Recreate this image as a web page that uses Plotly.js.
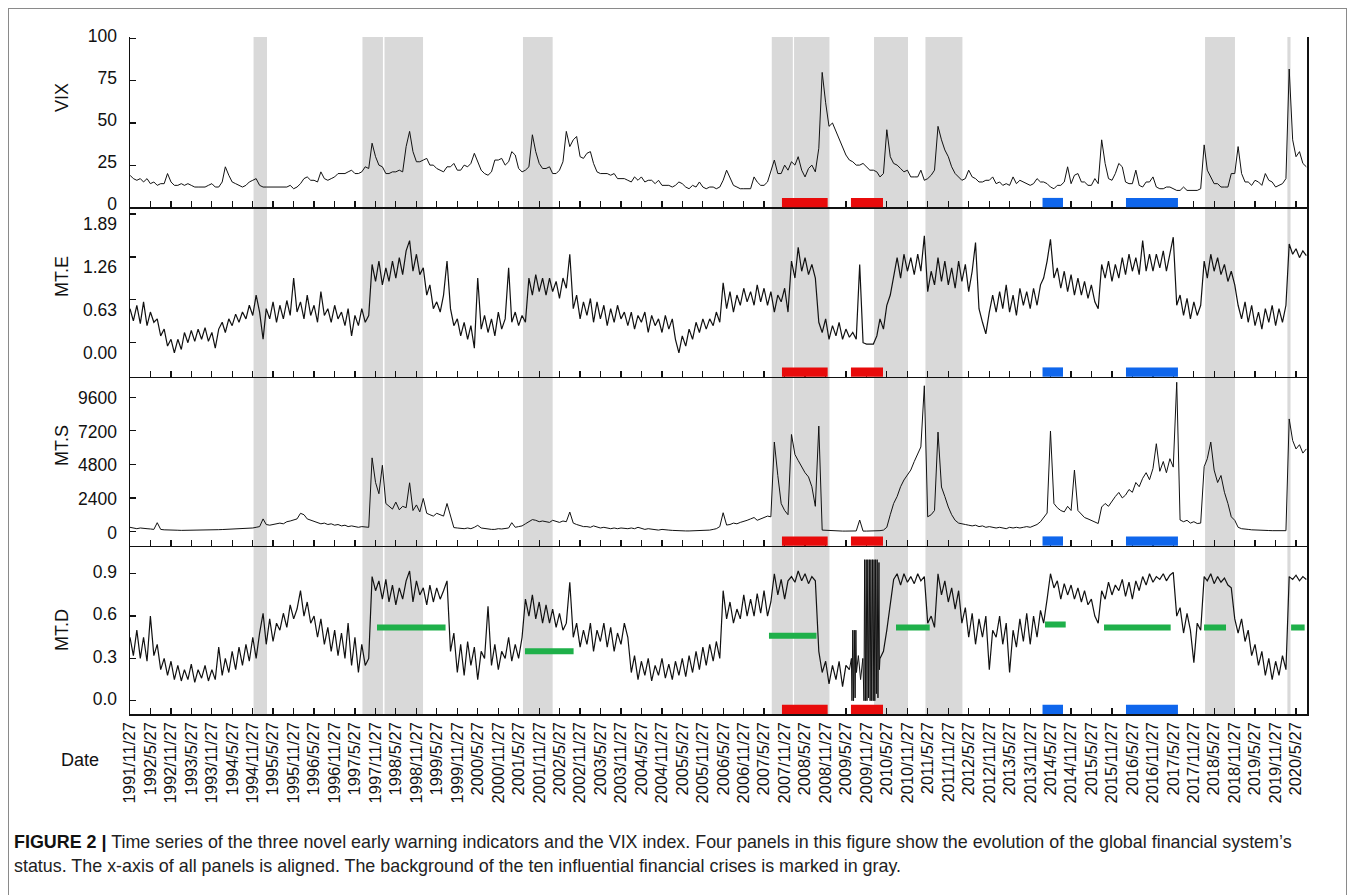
<!DOCTYPE html>
<html><head><meta charset="utf-8">
<script src="https://cdn.plot.ly/plotly-3.0.1.min.js"></script>
<style>
body{margin:0;background:#fff;}
#chart{position:absolute;left:0;top:0;width:1355px;height:895px;}
#frame{position:absolute;left:8px;top:8px;width:1339px;height:900px;border:1px solid #8a8a8a;box-sizing:border-box;pointer-events:none;}
#caption{position:absolute;left:14px;top:830px;font-family:'Liberation Sans',Arial,sans-serif;font-size:17.9px;line-height:24px;color:#222;white-space:nowrap;}
#caption b{color:#111;}
</style></head><body>
<div id="chart"></div>
<div id="frame"></div>
<div id="caption"><b>FIGURE 2 |</b> Time series of the three novel early warning indicators and the VIX index. Four panels in this figure show the evolution of the global financial system’s<br>status. The x-axis of all panels is aligned. The background of the ten influential financial crises is marked in gray.</div>
<script>
// ---------- DATA ----------
const seriesStart = '1991-11-27'; // monthly observations, one per month (27th)

const vixValues = [
/*1991*/ 19,17,
/*1992*/ 16,17,15,17,14,15,13,14,14,20,15,13,
/*1993*/ 13,14,13,14,13,12,12,12,12,13,14,12,
/*1994*/ 12,15,24,19,15,14,13,12,13,15,16,17,
/*1995*/ 13,12,12,12,12,12,12,12,12,13,11,12,
/*1996*/ 14,17,18,16,16,15,21,17,16,17,18,20,
/*1997*/ 20,20,21,22,20,20,21,24,23,38,30,25,
/*1998*/ 24,20,20,21,21,22,21,36,45,33,27,27,
/*1999*/ 28,29,25,25,23,22,21,24,24,26,22,22,
/*2000*/ 25,24,26,32,27,22,20,19,21,28,28,29,
/*2001*/ 25,27,33,31,23,21,22,24,43,33,26,23,
/*2002*/ 23,24,20,20,22,27,45,36,40,42,30,29,
/*2003*/ 32,33,26,21,20,20,20,19,20,17,17,17,
/*2004*/ 16,15,18,16,18,15,16,16,14,16,13,13,
/*2005*/ 13,12,13,15,14,12,11,13,12,15,12,11,
/*2006*/ 12,12,11,12,16,22,17,13,12,11,11,11,
/*2007*/ 11,18,15,13,13,15,22,28,20,20,25,22,
/*2008*/ 27,25,30,22,18,23,25,21,35,80,62,48,
/*2009*/ 50,45,40,36,31,28,27,25,25,26,24,22,
/*2010*/ 22,21,18,20,46,30,26,25,23,21,22,18,
/*2011*/ 18,18,22,16,17,19,22,48,40,34,30,24,
/*2012*/ 20,18,16,17,22,18,17,15,15,16,16,18,
/*2013*/ 14,15,13,14,13,18,14,16,15,14,13,14,
/*2014*/ 17,15,15,14,12,11,13,13,15,24,14,19,
/*2015*/ 20,15,15,13,13,17,14,40,26,17,16,20,
/*2016*/ 26,24,15,14,14,22,13,12,15,15,18,12,
/*2017*/ 11,11,12,12,11,10,10,12,10,10,10,10,
/*2018*/ 11,37,22,18,14,14,12,12,12,20,20,36,
/*2019*/ 20,15,15,13,16,15,13,20,16,15,12,13,
/*2020*/ 14,17,82,40,30,33,26,24
];

const mteValues = [
/*1991*/ 0.50,0.32,
/*1992*/ 0.55,0.28,0.60,0.25,0.45,0.30,0.35,0.10,0.20,-0.05,0.05,-0.15,
/*1993*/ 0.05,-0.10,0.15,0.00,0.18,0.02,0.20,0.05,0.22,0.02,0.15,-0.08,
/*1994*/ 0.20,0.30,0.15,0.35,0.25,0.42,0.30,0.45,0.35,0.55,0.40,0.70,
/*1995*/ 0.45,0.05,0.50,0.35,0.60,0.30,0.55,0.35,0.62,0.40,0.95,0.45,
/*1996*/ 0.60,0.35,0.70,0.40,0.55,0.30,0.75,0.40,0.50,0.30,0.55,0.35,
/*1997*/ 0.45,0.25,0.50,0.10,0.40,0.25,0.50,0.30,0.40,1.15,0.90,1.20,
/*1998*/ 0.85,1.10,0.90,1.20,0.95,1.25,1.00,1.35,1.50,1.05,1.30,1.00,
/*1999*/ 1.10,0.70,0.85,0.50,0.60,0.45,0.70,1.20,0.50,0.25,0.35,0.10,
/*2000*/ 0.30,0.05,0.25,-0.08,0.95,0.20,0.40,0.15,0.35,0.10,0.45,0.20,
/*2001*/ 0.35,1.10,0.30,0.45,0.25,0.40,0.30,0.95,0.70,1.00,0.75,0.95,
/*2002*/ 0.70,0.95,0.75,0.90,0.65,0.95,0.80,1.30,0.50,0.70,0.35,0.60,
/*2003*/ 0.40,0.65,0.30,0.60,0.35,0.55,0.25,0.50,0.30,0.55,0.35,0.45,
/*2004*/ 0.25,0.45,0.20,0.40,0.30,0.45,0.15,0.40,0.25,0.35,0.15,0.40,
/*2005*/ 0.20,0.35,0.05,-0.15,0.10,-0.05,0.20,0.05,0.30,0.15,0.35,0.20,
/*2006*/ 0.35,0.25,0.45,0.30,0.88,0.50,0.75,0.45,0.70,0.55,0.80,0.60,
/*2007*/ 0.75,0.55,0.85,0.60,0.80,0.55,0.75,0.45,0.70,0.60,0.80,0.45,
/*2008*/ 1.20,0.95,1.40,1.05,1.25,1.00,1.15,0.95,0.30,0.15,0.35,0.05,
/*2009*/ 0.25,0.10,0.30,0.05,0.20,0.08,0.15,0.05,1.15,0.00,-0.02,-0.02,
/*2010*/ -0.02,0.10,0.35,0.20,0.55,0.70,1.00,1.25,0.95,1.30,1.05,1.25,
/*2011*/ 1.00,1.30,1.05,1.57,0.75,1.05,0.85,1.25,0.90,1.20,0.85,1.10,
/*2012*/ 0.80,1.20,0.90,1.15,0.75,1.05,1.47,0.50,0.30,0.13,0.45,0.70,
/*2013*/ 0.45,0.75,0.50,0.85,0.45,0.70,0.40,0.80,0.55,0.75,0.50,0.80,
/*2014*/ 0.55,0.85,0.95,1.20,1.52,0.95,1.10,0.80,1.05,0.75,1.00,0.70,
/*2015*/ 0.95,0.70,0.90,0.65,0.85,0.60,0.50,1.15,0.95,1.20,0.90,1.15,
/*2016*/ 0.95,1.25,1.00,1.30,1.05,1.25,1.00,1.50,1.05,1.30,1.05,1.30,
/*2017*/ 1.10,1.35,1.05,1.30,1.55,0.55,0.70,0.40,0.65,0.35,0.60,0.40,
/*2018*/ 0.55,1.20,0.95,1.30,1.05,1.25,1.00,1.15,0.90,1.05,0.85,0.55,
/*2019*/ 0.35,0.60,0.30,0.55,0.25,0.45,0.20,0.50,0.30,0.55,0.25,0.50,
/*2020*/ 0.30,0.55,1.45,1.30,1.38,1.25,1.35,1.28
];

const mtsValues = [
/*1991*/ 300,250,
/*1992*/ 200,250,200,200,180,150,630,150,120,100,100,100,
/*1993*/ 90,80,80,80,80,90,90,100,100,110,120,120,
/*1994*/ 130,140,150,160,150,160,170,180,200,220,250,300,
/*1995*/ 350,900,500,450,500,550,600,550,700,750,800,900,
/*1996*/ 1300,1200,900,800,700,600,550,600,500,550,450,500,
/*1997*/ 400,450,350,400,350,300,350,300,300,5260,3500,2700,
/*1998*/ 4730,2000,1800,1600,2100,1550,1800,1700,3480,1500,1900,1400,
/*1999*/ 2360,1300,1200,1100,1300,1200,1100,2000,1200,280,250,200,
/*2000*/ 200,250,200,300,440,250,200,180,150,150,200,180,
/*2001*/ 200,250,630,300,350,400,550,700,850,800,700,750,
/*2002*/ 700,650,800,700,650,750,700,1390,600,500,400,350,
/*2003*/ 350,300,400,300,250,300,250,200,250,200,250,200,
/*2004*/ 200,250,200,300,200,150,200,150,150,100,150,100,
/*2005*/ 100,80,60,50,40,40,40,50,40,50,60,80,
/*2006*/ 100,150,200,350,1340,460,500,600,550,650,700,800,
/*2007*/ 900,1000,800,900,1000,1100,1050,6390,4000,2000,1500,1200,
/*2008*/ 6930,5500,5070,4600,4200,3900,3200,1800,7530,100,80,60,
/*2009*/ 50,40,40,30,30,30,30,40,820,30,30,30,
/*2010*/ 30,40,60,100,300,1200,2000,2500,3200,3680,4000,4390,
/*2011*/ 5000,5500,6040,10410,1050,1200,1500,7100,3180,2500,1750,1200,
/*2012*/ 800,600,570,500,450,400,450,350,400,300,350,300,
/*2013*/ 250,300,250,200,300,250,300,250,300,350,300,400,
/*2014*/ 500,700,1000,1320,7180,2000,1700,1500,1400,1800,1500,4390,
/*2015*/ 1500,1200,1000,900,800,700,570,1750,2000,1800,2200,2500,
/*2016*/ 2790,2400,2600,3000,2800,3500,3200,3800,4200,3700,4500,6270,
/*2017*/ 4300,5000,4200,5200,4600,10660,820,700,800,600,700,570,
/*2018*/ 600,4630,5200,6390,4390,3500,4000,2800,2000,1050,800,300,
/*2019*/ 200,150,150,120,100,100,80,80,70,60,60,50,
/*2020*/ 50,60,8040,6500,5900,6200,5600,5900
];

const mtdValues = [
/*1991*/ 0.45,0.32,
/*1992*/ 0.50,0.30,0.45,0.28,0.60,0.32,0.40,0.22,0.30,0.18,0.28,0.15,
/*1993*/ 0.25,0.14,0.22,0.15,0.26,0.13,0.22,0.16,0.25,0.14,0.22,0.15,
/*1994*/ 0.38,0.18,0.30,0.20,0.35,0.22,0.38,0.25,0.40,0.28,0.45,0.30,
/*1995*/ 0.48,0.62,0.40,0.58,0.42,0.55,0.50,0.62,0.52,0.68,0.58,0.65,
/*1996*/ 0.78,0.60,0.70,0.55,0.60,0.45,0.58,0.40,0.52,0.35,0.50,0.32,
/*1997*/ 0.48,0.30,0.55,0.25,0.45,0.20,0.40,0.25,0.30,0.88,0.78,0.85,
/*1998*/ 0.72,0.86,0.70,0.82,0.68,0.80,0.72,0.85,0.92,0.70,0.85,0.75,
/*1999*/ 0.80,0.68,0.82,0.70,0.80,0.72,0.78,0.85,0.35,0.48,0.20,0.40,
/*2000*/ 0.18,0.42,0.25,0.38,0.15,0.35,0.30,0.67,0.25,0.40,0.22,0.35,
/*2001*/ 0.30,0.45,0.28,0.40,0.30,0.45,0.72,0.60,0.75,0.58,0.70,0.55,
/*2002*/ 0.68,0.55,0.65,0.52,0.62,0.50,0.55,0.84,0.45,0.55,0.38,0.50,
/*2003*/ 0.40,0.55,0.35,0.50,0.42,0.55,0.38,0.52,0.35,0.48,0.40,0.55,
/*2004*/ 0.45,0.20,0.32,0.15,0.28,0.18,0.30,0.14,0.25,0.18,0.30,0.16,
/*2005*/ 0.26,0.15,0.28,0.18,0.30,0.17,0.32,0.20,0.35,0.22,0.38,0.25,
/*2006*/ 0.40,0.28,0.42,0.30,0.78,0.58,0.70,0.55,0.65,0.58,0.75,0.60,
/*2007*/ 0.72,0.60,0.76,0.62,0.78,0.60,0.70,0.90,0.75,0.86,0.72,0.85,
/*2008*/ 0.88,0.84,0.92,0.85,0.90,0.83,0.88,0.85,0.35,0.20,0.28,0.12,
/*2009*/ 0.25,0.15,0.28,0.10,0.25,0.22,null,null,null,null,null,null,
/*2010*/ null,null,0.30,0.35,0.50,0.70,0.86,0.90,0.82,0.90,0.84,0.88,
/*2011*/ 0.83,0.90,0.85,0.88,0.55,0.60,0.52,0.90,0.75,0.85,0.70,0.80,
/*2012*/ 0.65,0.78,0.55,0.66,0.45,0.62,0.40,0.58,0.45,0.60,0.22,0.50,
/*2013*/ 0.45,0.60,0.40,0.55,0.20,0.50,0.38,0.58,0.42,0.62,0.40,0.60,
/*2014*/ 0.45,0.64,0.55,0.72,0.90,0.80,0.85,0.72,0.83,0.75,0.82,0.72,
/*2015*/ 0.80,0.70,0.78,0.68,0.72,0.60,0.55,0.78,0.72,0.84,0.75,0.82,
/*2016*/ 0.78,0.86,0.74,0.84,0.72,0.85,0.78,0.88,0.82,0.90,0.84,0.88,
/*2017*/ 0.86,0.90,0.85,0.89,0.91,0.60,0.66,0.48,0.62,0.50,0.27,0.55,
/*2018*/ 0.50,0.88,0.85,0.90,0.83,0.88,0.84,0.87,0.82,0.80,0.58,0.48,
/*2019*/ 0.58,0.42,0.50,0.32,0.40,0.25,0.35,0.18,0.30,0.15,0.28,0.18,
/*2020*/ 0.32,0.22,0.88,0.86,0.89,0.85,0.88,0.86
];

// MT.D oscillation episode 2009-2010 (finer readings)
const mtdOscDates = ['2009-06-27','2009-07-15','2009-07-20','2009-07-27','2009-08-03','2009-08-10','2009-08-17','2009-08-24','2009-08-29','2009-09-15','2009-10-05','2009-10-25','2009-11-04','2009-11-10','2009-11-17','2009-11-24','2009-12-01','2009-12-08','2009-12-15','2009-12-22','2009-12-29','2010-01-05','2010-01-12','2010-01-19','2010-01-26','2010-02-02','2010-02-09','2010-02-16','2010-02-23','2010-03-02','2010-03-09','2010-03-18','2010-03-22','2010-03-27'];
const mtdOscValues = [0.22,0.30,0.00,0.50,0.00,0.50,0.02,0.50,0.20,0.32,0.15,0.30,0.00,1.00,0.00,1.00,0.00,1.00,0.02,1.00,0.00,1.00,0.00,1.00,0.00,1.00,0.00,1.00,0.05,1.00,0.02,0.98,0.22,0.30];

const tickLabels = ['1991/11/27','1992/5/27','1992/11/27','1993/5/27','1993/11/27','1994/5/27','1994/11/27','1995/5/27','1995/11/27','1996/5/27','1996/11/27','1997/5/27','1997/11/27','1998/5/27','1998/11/27','1999/5/27','1999/11/27','2000/5/27','2000/11/27','2001/5/27','2001/11/27','2002/5/27','2002/11/27','2003/5/27','2003/11/27','2004/5/27','2004/11/27','2005/5/27','2005/11/27','2006/5/27','2006/11/27','2007/5/27','2007/11/27','2008/5/27','2008/11/27','2009/5/27','2009/11/27','2010/5/27','2010/11/27','2011/5/27','2011/11/27','2012/5/27','2012/11/27','2013/5/27','2013/11/27','2014/5/27','2014/11/27','2015/5/27','2015/11/27','2016/5/27','2016/11/27','2017/5/27','2017/11/27','2018/5/27','2018/11/27','2019/5/27','2019/11/27','2020/5/27'];

// crisis periods (gray background)
const crisisStarts = ['1994-12-04','1997-08-02','1998-02-15','2001-07-05','2007-08-04','2008-02-19','2010-02-02','2011-05-07','2018-03-07','2020-03-11'];
const crisisEnds   = ['1995-04-03','1998-02-01','1999-01-25','2002-03-27','2008-02-08','2008-12-31','2010-12-02','2012-04-01','2018-11-29','2020-04-08'];

// red / blue markers along panel bottoms
const redStarts  = ['2007-11-03','2009-07-11'];
const redEnds    = ['2008-12-15','2010-04-23'];
const blueStarts = ['2014-03-17','2016-03-31'];
const blueEnds   = ['2014-09-16','2017-07-08'];

// green level bars in MT.D panel
const greenStarts = ['1997-12-10','2001-07-23','2007-07-10','2010-08-17','2014-04-08','2015-09-17','2018-02-26','2020-04-13'];
const greenEnds   = ['1999-08-14','2002-09-30','2008-09-06','2011-06-14','2014-10-10','2017-05-04','2018-09-10','2020-08-12'];
const greenLevels = [0.52,0.35,0.46,0.52,0.54,0.52,0.52,0.52];

// ---------- BUILD ----------
const monthDates = [];
for (let i = 0; i < vixValues.length; i++) {
  const d = new Date(Date.UTC(1991, 10 + i, 27));
  monthDates.push(d.toISOString().slice(0, 10));
}
const tickDates = tickLabels.map(s => { const p = s.split('/'); return p[0] + '-' + p[1].padStart(2,'0') + '-' + p[2]; });

const FONT = "'Liberation Sans', Arial, sans-serif";
const lineStyle = {color: '#111', width: 1.2};
const traces = [
  {x: monthDates, y: vixValues, xaxis: 'x2', yaxis: 'y',  mode: 'lines', line: {color: '#111', width: 1}, hoverinfo: 'skip'},
  {x: monthDates, y: mteValues, xaxis: 'x3', yaxis: 'y2', mode: 'lines', line: lineStyle, hoverinfo: 'skip'},
  {x: monthDates, y: mtsValues, xaxis: 'x4', yaxis: 'y3', mode: 'lines', line: {color: '#111', width: 1}, hoverinfo: 'skip'},
  {x: monthDates, y: mtdValues, xaxis: 'x',  yaxis: 'y4', mode: 'lines', line: lineStyle, hoverinfo: 'skip', connectgaps: false},
  {x: mtdOscDates, y: mtdOscValues, xaxis: 'x', yaxis: 'y4', mode: 'lines', line: {color: '#111', width: 1}, hoverinfo: 'skip'}
];

const shapes = [];
crisisStarts.forEach((s, i) => {
  shapes.push({type: 'rect', xref: 'x', yref: 'paper', x0: s, x1: crisisEnds[i], y0: 0, y1: 1,
    fillcolor: '#d9d9d9', line: {width: 0}, layer: 'below'});
});
const domRefs = ['y domain', 'y2 domain', 'y3 domain', 'y4 domain'];
domRefs.forEach(ref => {
  redStarts.forEach((s, i) => shapes.push({type: 'rect', xref: 'x', yref: ref, x0: s, x1: redEnds[i], y0: 0, y1: 0.055,
    fillcolor: '#e80b0b', line: {width: 0}, layer: 'above'}));
  blueStarts.forEach((s, i) => shapes.push({type: 'rect', xref: 'x', yref: ref, x0: s, x1: blueEnds[i], y0: 0, y1: 0.055,
    fillcolor: '#0f66ec', line: {width: 0}, layer: 'above'}));
});
greenStarts.forEach((s, i) => shapes.push({type: 'line', xref: 'x', yref: 'y4', x0: s, x1: greenEnds[i],
  y0: greenLevels[i], y1: greenLevels[i], line: {color: '#1fb04a', width: 6}, layer: 'above'}));

const xRange = ['1991-11-27', '2020-09-02'];
function xAx(anchor, labels) {
  return {
    type: 'date', range: xRange, anchor: anchor, showgrid: false, zeroline: false,
    showline: true, linecolor: '#111', linewidth: 1.5, mirror: false,
    ticks: 'inside', ticklen: 6, tickwidth: 1.2, tickcolor: '#111',
    tickmode: 'array', tickvals: tickDates, ticktext: tickLabels,
    showticklabels: labels, tickangle: -90,
    tickfont: {family: FONT, size: 16.5, color: '#111'}
  };
}
function yAx(domain, range, vals, texts, shift) {
  return {
    domain: domain, range: range, showgrid: false, zeroline: false,
    showline: true, linecolor: '#111', linewidth: 1.5, mirror: true,
    ticks: 'inside', ticklen: 6, tickwidth: 1.2, tickcolor: '#111',
    tickmode: 'array', tickvals: vals, ticktext: texts,
    tickfont: {family: FONT, size: 17.5, color: '#111'}, ticklabelstandoff: 8,
    ticklabelshift: shift
  };
}

const layout = {
  width: 1355, height: 895,
  margin: {l: 130, r: 48, t: 37, b: 181},
  paper_bgcolor: 'rgba(0,0,0,0)', plot_bgcolor: 'rgba(0,0,0,0)',
  showlegend: false,
  font: {family: FONT, color: '#111'},
  xaxis:  xAx('y4', true),
  xaxis2: Object.assign(xAx('y', false), {matches: 'x'}),
  xaxis3: Object.assign(xAx('y2', false), {matches: 'x'}),
  xaxis4: Object.assign(xAx('y3', false), {matches: 'x'}),
  yaxis:  yAx([0.7485, 1], [0, 101], [0, 25, 50, 75, 100], ['0', '25', '50', '75', '100'], -3),
  yaxis2: yAx([0.4982, 0.7485], [-0.50, 1.99], [0, 0.63, 1.26, 1.89], ['0.00', '0.63', '1.26', '1.89'], 10),
  yaxis3: yAx([0.2486, 0.4982], [-1014, 11057], [0, 2400, 4800, 7200, 9600], ['0', '2400', '4800', '7200', '9600'], 1),
  yaxis4: yAx([0, 0.2486], [-0.094, 1.099], [0, 0.3, 0.6, 0.9], ['0.0', '0.3', '0.6', '0.9'], -2),
  shapes: shapes,
  annotations: [
    {text: 'VIX',  xref: 'paper', yref: 'paper', x: -0.0578, y: 0.9114, textangle: -90, showarrow: false, font: {family: FONT, size: 18, color: '#111'}, xanchor: 'center', yanchor: 'middle'},
    {text: 'MT.E', xref: 'paper', yref: 'paper', x: -0.0578, y: 0.647,  textangle: -90, showarrow: false, font: {family: FONT, size: 18, color: '#111'}, xanchor: 'center', yanchor: 'middle'},
    {text: 'MT.S', xref: 'paper', yref: 'paper', x: -0.0578, y: 0.3973, textangle: -90, showarrow: false, font: {family: FONT, size: 18, color: '#111'}, xanchor: 'center', yanchor: 'middle'},
    {text: 'MT.D', xref: 'paper', yref: 'paper', x: -0.0578, y: 0.124,  textangle: -90, showarrow: false, font: {family: FONT, size: 18, color: '#111'}, xanchor: 'center', yanchor: 'middle'},
    {text: 'Date', xref: 'paper', yref: 'paper', x: -0.0425, y: -0.068, showarrow: false, font: {family: FONT, size: 18, color: '#111'}, xanchor: 'center', yanchor: 'middle'}
  ]
};

Plotly.newPlot('chart', traces, layout, {staticPlot: true, displayModeBar: false});
</script>
</body></html>
